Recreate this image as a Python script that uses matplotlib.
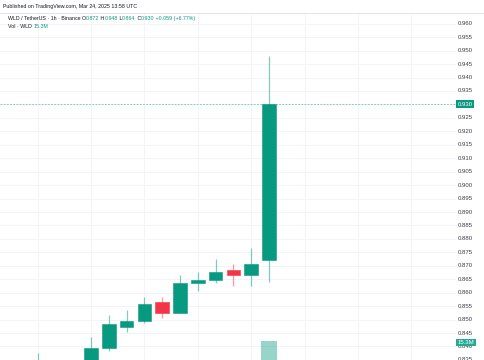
import matplotlib
matplotlib.use("Agg")
import matplotlib.pyplot as plt
import numpy as np

plt.rcParams['font.family'] = ['Liberation Sans', 'DejaVu Sans']

# ---- data (WLD/USDT 1h) ----
opens  = [0.8290, 0.8320, 0.8300, 0.8335, 0.8305, 0.8325, 0.8394, 0.8474,
          0.8496, 0.8565, 0.8525, 0.8635, 0.8646, 0.8685, 0.8666, 0.8720]
highs  = [0.8335, 0.8340, 0.8377, 0.8345, 0.8340, 0.8436, 0.8517, 0.8536,
          0.8585, 0.8585, 0.8666, 0.8676, 0.8725, 0.8707, 0.8766, 0.9480]
lows   = [0.8265, 0.8280, 0.8290, 0.8290, 0.8285, 0.8315, 0.8384, 0.8455,
          0.8486, 0.8507, 0.8525, 0.8607, 0.8637, 0.8626, 0.8626, 0.8640]
closes = [0.8320, 0.8300, 0.8335, 0.8305, 0.8325, 0.8396, 0.8485, 0.8496,
          0.8557, 0.8526, 0.8635, 0.8646, 0.8676, 0.8666, 0.8707, 0.9300]
volumes_m = [2.1, 1.8, 2.5, 1.9, 2.2, 3.4, 4.1, 2.6, 3.3, 2.8, 4.0, 2.3, 2.9, 2.4, 3.6, 15.3]

price_ticks = [0.835 + 0.005 * k for k in range(26)]
last_price = 0.930
last_volume_label = "15.3M"

header_published = "Published on TradingView.com, Mar 24, 2025 13:58 UTC"
symbol_text = "WLD / TetherUS \u00b7 1h \u00b7 Binance"
ohlc_change = "+0.059 (+6.77%)"
vol_text = "Vol \u00b7 WLD"

GREEN = '#089981'
RED = '#F23645'
TXT = '#131722'
GRID = '#f3f4f7'

W, H = 485, 360
fig = plt.figure(figsize=(W / 100, H / 100), dpi=100)
fig.patch.set_facecolor('white')

plot_right = 456
plot_top = 13
ax = fig.add_axes([0, 0, plot_right / W, 1 - plot_top / H])
ax.set_facecolor('white')

n = len(opens)
x = np.arange(n)
spacing = 17.8
x_last_px = 269
ax.set_xlim(n - 1 - x_last_px / spacing, n - 1 + (plot_right - x_last_px) / spacing)
ax.set_ylim(0.83498, 0.96398)

# grid
for xv in range(2, 30, 3):
    ax.axvline(xv, color=GRID, lw=0.7, zorder=0)
for p in price_ticks:
    ax.axhline(p, color=GRID, lw=0.7, zorder=0)

# volume (overlay axis)
axv = ax.twinx()
axv.set_ylim(11.58, 78.6)
axv.set_xlim(ax.get_xlim())
vcols = [GREEN if c >= o else RED for o, c in zip(opens, closes)]
axv.bar(x, volumes_m, width=0.92, color=vcols, alpha=0.42, zorder=1, linewidth=0)
axv.axis('off')

# candles
body_w = 0.76
for i in range(n):
    o, h, l, c = opens[i], highs[i], lows[i], closes[i]
    col = GREEN if c >= o else RED
    ax.vlines(i, l, h, color=col, alpha=0.5, lw=0.9, zorder=2)
    lo, hi = min(o, c), max(o, c)
    ax.add_patch(plt.Rectangle((i - body_w / 2, lo), body_w, hi - lo,
                               facecolor=col, edgecolor=col, lw=0.4, zorder=3))

# last price dashed line
ax.axhline(last_price, color=GREEN, alpha=0.5, lw=0.6, dashes=(2.2, 1.6), zorder=1)

for s in ax.spines.values():
    s.set_visible(False)
ax.set_xticks([])
ax.set_yticks([])

# price axis labels (right scale)
xlab = (plot_right + 1.5) / plot_right
for p in price_ticks:
    ax.text(xlab, p, f"{p:.3f}", transform=ax.get_yaxis_transform(),
            fontsize=4.3, color='#3a3e48', va='center', ha='left', clip_on=False)

# price tag
ax.text(xlab, last_price, f"{last_price:.3f}", transform=ax.get_yaxis_transform(),
        fontsize=4.3, color='white', va='center', ha='left', zorder=10,
        bbox=dict(boxstyle='square,pad=0.25', facecolor=GREEN, edgecolor='none'))
# volume tag
fig.text((plot_right + 1.5) / W, (H - 342.5) / H, last_volume_label, fontsize=4.3, color='white',
         va='center', ha='left', zorder=10,
         bbox=dict(boxstyle='square,pad=0.25', facecolor='#22ab94', edgecolor='none'))

# top border line
fig.add_artist(plt.Line2D([0, 1], [1 - plot_top / H, 1 - plot_top / H],
                          transform=fig.transFigure, color='#e0e3eb', lw=0.7))

# header texts
fig.text(3 / W, 1 - 6.5 / H, header_published, fontsize=3.8, color=TXT, va='center', ha='left')

fig.canvas.draw()
renderer = fig.canvas.get_renderer()


def seq(x0, y_px, parts, fs=3.8):
    xpx = x0
    for s, col in parts:
        t = fig.text(xpx / W, 1 - y_px / H, s, fontsize=fs, color=col, va='center', ha='left')
        bb = t.get_window_extent(renderer=renderer)
        xpx += bb.width


seq(8, 18.5, [(symbol_text + " ", TXT), ("O", TXT), (f"{opens[-1]:.3f}", GREEN),
              (" H", TXT), (f"{highs[-1]:.3f}", GREEN),
              (" L", TXT), (f"{lows[-1]:.3f}", GREEN),
              (" C", TXT), (f"{closes[-1]:.3f}", GREEN),
              (" " + ohlc_change, GREEN)])
seq(8, 26.5, [(vol_text + " ", TXT), (last_volume_label, GREEN)])

fig.savefig("out.png", dpi=100, facecolor='white')
